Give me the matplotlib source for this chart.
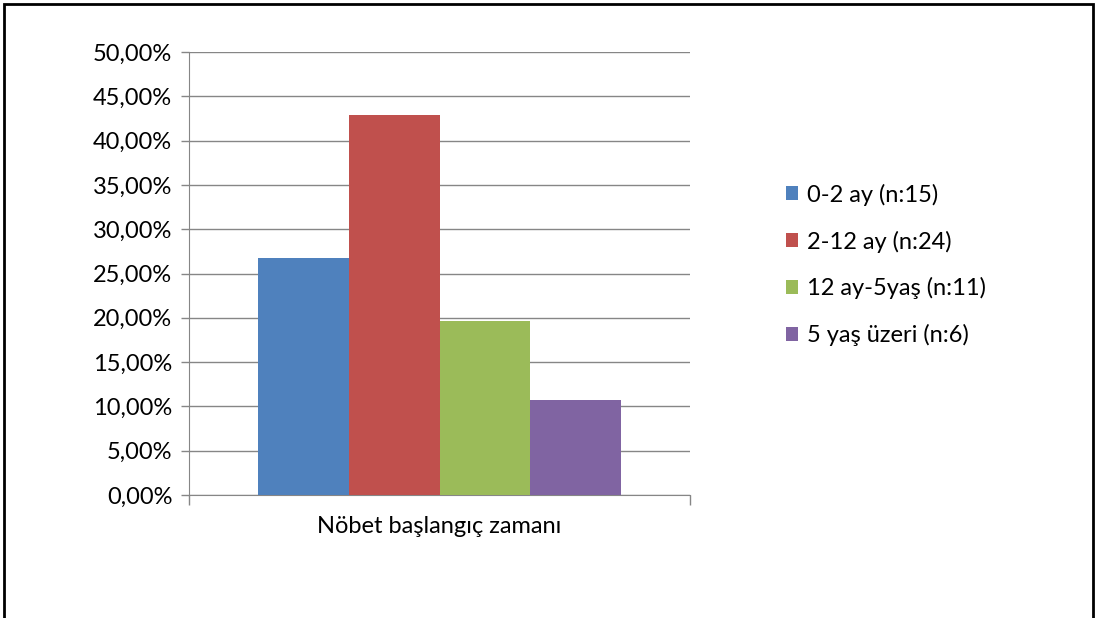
import matplotlib.pyplot as plt
from matplotlib.patches import Rectangle
from matplotlib.ticker import FuncFormatter
import numpy as np

plt.rcParams['font.family'] = ['Lato', 'DejaVu Sans']

# data
category = 'Nöbet başlangıç zamanı'
labels = ['0-2 ay (n:15)', '2-12 ay (n:24)', '12 ay-5yaş (n:11)', '5 yaş üzeri (n:6)']
counts = [15, 24, 11, 6]
values = [c / sum(counts) for c in counts]
colors = ['#4F81BD', '#C0504D', '#9BBB59', '#8064A2']

fig = plt.figure(figsize=(10.97, 6.18), dpi=100)
ax = fig.add_axes([189/1097, 1 - 495/618, 501/1097, 443/618])

bw = 0.181
offsets = (np.arange(len(values)) - 1.5) * bw
for off, v, c, lab in zip(offsets, values, colors, labels):
    ax.bar(off, v, width=bw, color=c, label=lab, zorder=3)

ax.set_xlim(-0.5, 0.5)
ax.set_ylim(0, 0.5)
ax.set_yticks(np.arange(0, 0.501, 0.05))
ax.yaxis.set_major_formatter(FuncFormatter(lambda y, p: f'{y*100:.2f}%'.replace('.', ',')))
ax.set_xticks([-0.5, 0.5])
ax.set_xticklabels(['', ''])
ax.tick_params(axis='x', length=7, color='#868686', width=1)
ax.tick_params(axis='y', length=6, color='#868686', width=1, labelsize=17, pad=6)
ax.grid(axis='y', color='#868686', linewidth=1, zorder=0)
for s in ['top', 'right']:
    ax.spines[s].set_visible(False)
for s in ['left', 'bottom']:
    ax.spines[s].set_color('#868686')
ax.text(0, -0.072, category, transform=ax.get_xaxis_transform(), ha='center', va='center', fontsize=17)

fig.legend(loc='center left', bbox_to_anchor=(786/1097, 1 - 265/618), frameon=False,
           fontsize=17, handlelength=0.52, handleheight=0.52, handletextpad=0.35,
           labelspacing=1.05, borderpad=0, borderaxespad=0)

fig.patches.append(Rectangle((4/1097, -0.1), 1089/1097, 1.1 - 4/618, transform=fig.transFigure,
                             fill=False, edgecolor='black', linewidth=2))

fig.savefig('out.png', dpi=100)
